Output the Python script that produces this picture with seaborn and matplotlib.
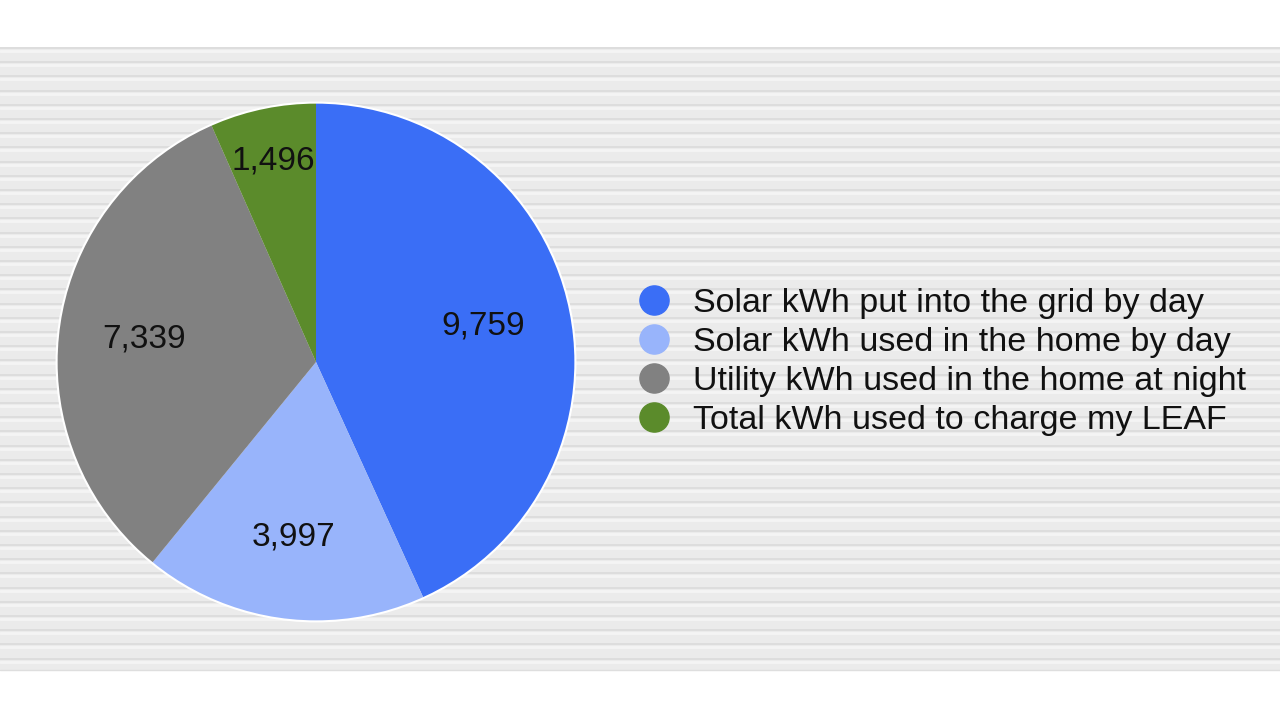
import matplotlib

matplotlib.use("Agg")

import matplotlib.pyplot as plt
import seaborn as sns
from matplotlib.lines import Line2D
from matplotlib.patches import Circle
import numpy as np

categories = [
    "Solar kWh put into the grid by day",
    "Solar kWh used in the home by day",
    "Utility kWh used in the home at night",
    "Total kWh used to charge my LEAF",
]
values = [9759, 3997, 7339, 1496]
value_labels = ["9,759", "3,997", "7,339", "1,496"]
colors = ["#3a6ef6", "#98b4fb", "#818181", "#5b8b2b"]
label_dist = [0.66, 0.68, 0.67, 0.79]

sns.set_theme(style="white")
plt.rcParams["font.family"] = ["Liberation Sans", "DejaVu Sans"]

W, H = 1280, 720
fig = plt.figure(figsize=(12.8, 7.2), dpi=100)
fig.patch.set_facecolor("white")

# striped background band
bg = fig.add_axes([0, 0, 1, 1])
bg.set_xlim(0, W)
bg.set_ylim(H, 0)
bg.axis("off")
band_top, band_bottom = 47, 670
bg.axhspan(band_top, band_bottom, color="#ebebeb", lw=0)
for y in np.arange(band_top, band_bottom, 14.2):
    bg.axhline(y + 1, color="#dcdcdc", lw=1.3)
    bg.axhline(y + 4, color="#f4f4f4", lw=2.0)
bg.axhline(band_bottom, color="#dedede", lw=1)

# pie: center (316, 362), radius ~262 px
cx, cy, r = 316, 362, 262
ax = fig.add_axes([(cx - r) / W, (H - cy - r) / H, 2 * r / W, 2 * r / H])
ax.set_facecolor("none")
wedges, _ = ax.pie(
    values,
    colors=colors,
    startangle=90,
    counterclock=False,
    wedgeprops=dict(linewidth=0),
)
ax.add_patch(Circle((0, 0), 1, fill=False, edgecolor="white", lw=1.5))
ax.set_aspect("equal")
ax.set_xlim(-1.01, 1.01)
ax.set_ylim(-1.01, 1.01)

for w, lab, d in zip(wedges, value_labels, label_dist):
    mid = np.deg2rad((w.theta1 + w.theta2) / 2)
    ax.text(d * np.cos(mid), d * np.sin(mid), lab, ha="center", va="center",
            fontsize=24, color="#111111")

handles = [
    Line2D([0], [0], marker="o", linestyle="none", markersize=21,
           markerfacecolor=c, markeredgecolor=c)
    for c in colors
]
fig.legend(
    handles, categories,
    loc="center left",
    bbox_to_anchor=(605 / W, 1 - 362 / H),
    frameon=False,
    fontsize=24.5,
    labelspacing=0.24,
    handletextpad=0.6,
    handlelength=1.1,
    labelcolor="#111111",
)

fig.savefig("out.png", dpi=100)
